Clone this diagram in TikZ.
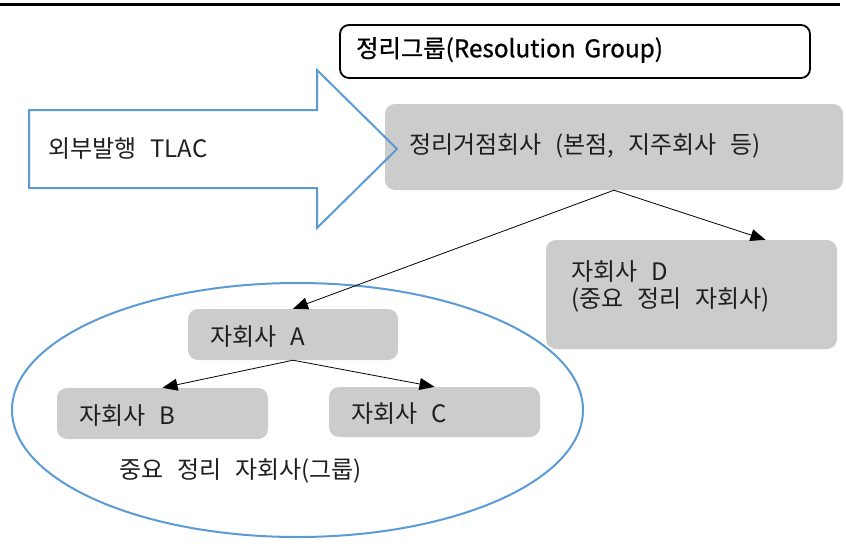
\documentclass[tikz,border=0pt]{standalone}
\usepackage{fontspec}
\setmainfont{Noto Sans CJK KR}[WordSpace=2.6]
\newfontfamily\titlefont{Noto Sans CJK KR}[WordSpace=1.6,FakeBold=0.8]
\usetikzlibrary{arrows.meta,calc}
\definecolor{boxgray}{RGB}{204,204,204}
\definecolor{outlineblue}{RGB}{91,155,213}
\begin{document}
\begin{tikzpicture}[x=1pt,y=-1pt,
  gbox/.style={fill=boxgray, rounded corners=10pt, inner sep=0pt},
  lbl/.style={anchor=west, inner sep=0pt, font=\fontsize{24}{27}\selectfont, align=left, text=black!88},
  conn/.style={-{Triangle[length=15pt,width=12pt]}, line width=0.8pt},
  blueline/.style={draw=outlineblue, line width=2pt}]
\useasboundingbox (0,0) rectangle (846,549);
% top rule
\draw[line width=3pt] (0,4) -- (840,4);
% title box
\node[draw, line width=1.8pt, rounded corners=9pt, minimum width=470pt, minimum height=53pt, inner sep=0pt] (title) at (575,51.5) {};
\node[lbl, text=black, font=\titlefont\fontsize{24.3}{27}\selectfont] (titletext) at (356,50) {정리그룹(Resolution Group)};
% gray boxes
\node[gbox, minimum width=458pt, minimum height=86pt] (main) at (614,147) {};
\node[gbox, minimum width=291pt, minimum height=109pt] (D) at (691.5,294.5) {};
\node[gbox, minimum width=210pt, minimum height=51pt] (A) at (293,334.5) {};
\node[gbox, minimum width=211pt, minimum height=51pt] (B) at (162.5,413.5) {};
\node[gbox, minimum width=211pt, minimum height=50pt] (C) at (434.5,412) {};
% texts
\node[lbl] (maintext) at (409,146) {정리거점회사 (본점, 지주회사 등)};
\node[lbl] (Dtext) at (571,286) {자회사 D\\(중요 정리 자회사)};
\node[lbl] (Atext) at (210,337) {자회사 A};
\node[lbl] (Btext) at (79,416) {자회사 B};
\node[lbl] (Ctext) at (351,414) {자회사 C};
\node[lbl] (grouptext) at (119,471) {중요 정리 자회사(그룹)};
% block arrow
\draw[blueline, line join=miter] (29,110) -- (317,110) -- (317,70) -- (397,149) -- (317,228) -- (317,188) -- (29,188) -- cycle;
\node[lbl] (tlac) at (48,149) {외부발행 TLAC};
% ellipse
\draw[blueline] (297.5,410) ellipse [x radius=285.5, y radius=127];
% connectors
\draw[conn] (main.south) -- (A.north);
\draw[conn] (main.south) -- ([xshift=74pt]D.north);
\draw[conn] (A.south) -- (B.north);
\draw[conn] (A.south) -- (C.north);
\end{tikzpicture}
\end{document}
